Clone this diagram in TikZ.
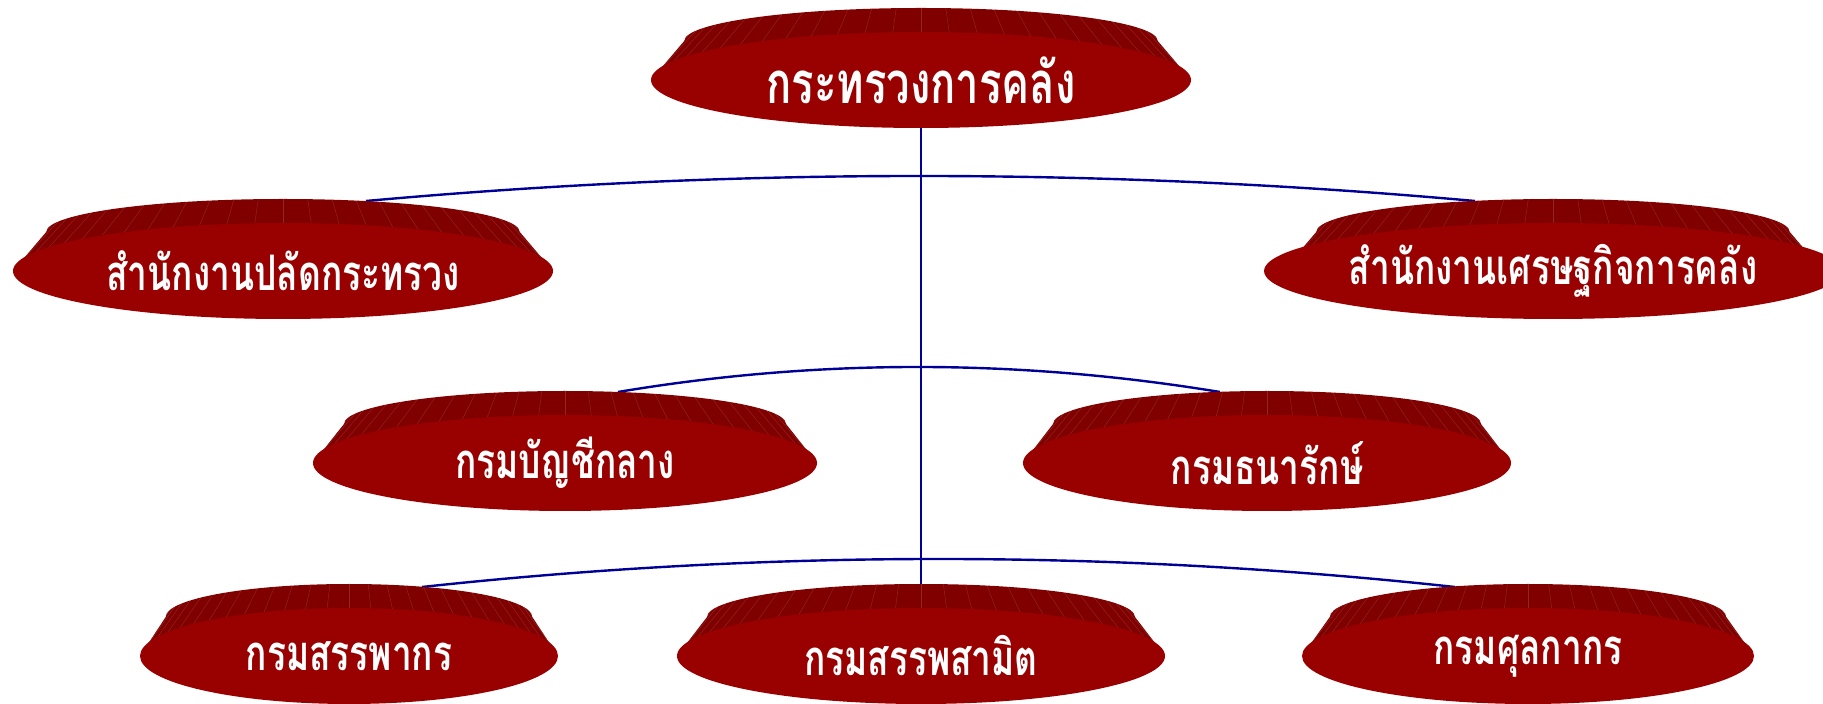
\documentclass[tikz,border=0pt]{standalone}
\usepackage{fontspec}
\newfontfamily\thaifont[Script=Thai,FakeStretch=0.72]{Loma}
\usetikzlibrary{calc,shapes.geometric,backgrounds}

\definecolor{rimred}{RGB}{128,0,0}
\definecolor{facered}{RGB}{153,0,0}
\definecolor{linkblue}{RGB}{0,0,150}

\tikzset{
  face/.style={ellipse,fill=facered,inner sep=0pt,text=white,
    font=\thaifont\bfseries\fontsize{49}{55}\selectfont},
  bigface/.style={face,font=\thaifont\bfseries\fontsize{58}{64}\selectfont},
  link/.style={draw=linkblue,line width=2.4pt},
}

% \disc[style]{name}{x}{y}{x radius}{text}
\newcommand{\disc}[6][face]{%
  \fill[rimred] (#3-0.877*#5,#4+39) arc[start angle=180,end angle=0,x radius=0.877*#5,y radius=33]
    -- (#3+#5,#4) -- (#3-#5,#4) -- cycle;
  \foreach \a in {6,12,...,174}
    \draw[white,opacity=0.15,line width=0.4pt]
      ($(#3,#4+39)+(\a:0.877*#5 and 33)$) -- ($(#3,#4)+(\a:#5 and 48)$);
  \node[#1,minimum width=2*#5pt,minimum height=96pt] (#2) at (#3,#4) {#6};
}

% \arch{left end}{control}{right end}
\newcommand{\arch}[3]{%
  \draw[link] (#1) .. controls ($(#1)!0.667!(#2)$) and ($(#3)!0.667!(#2)$) .. (#3);
}

\begin{document}
\begin{tikzpicture}[x=1pt,y=1pt]
  \useasboundingbox (0,0) rectangle (1823,704);

  \disc[bigface]{top}{921}{624}{270}{กระทรวงการคลัง}
  \disc{l1a}{283}{433}{270}{สำนักงานปลัดกระทรวง}
  \disc{l1b}{1553}{433}{270}{สำนักงานเศรษฐกิจการคลัง}
  \disc{l2a}{565}{241}{252}{กรมบัญชีกลาง}
  \disc{l2b}{1267}{241}{244}{กรมธนารักษ์}
  \disc{l3a}{349}{48}{209}{กรมสรรพากร}
  \disc{l3b}{921}{48}{244}{กรมสรรพสามิต}
  \disc{l3c}{1528}{48}{226}{กรมศุลกากร}

  % ends of the arches, on the rims
  \coordinate (e1a) at ($(l1a)+(83,70)$);
  \coordinate (e1b) at ($(l1b)+(-78,70)$);
  \coordinate (k1) at ($(l1a)!0.5!(l1b)+(0,120)$);
  \coordinate (e2a) at ($(l2a)+(53,71)$);
  \coordinate (e2b) at ($(l2b)+(-47,71)$);
  \coordinate (k2) at ($(l2a)!0.5!(l2b)+(0,121)$);
  \coordinate (e3a) at ($(l3a)+(73,69)$);
  \coordinate (e3b) at ($(l3c)+(-73,69)$);
  \coordinate (k3) at ($(l3a)!0.5!(l3c)+(0,125)$);

  \begin{scope}[on background layer]
    \draw[link] (top) -- (l3b);
    \arch{e1a}{k1}{e1b}
    \arch{e2a}{k2}{e2b}
    \arch{e3a}{k3}{e3b}
  \end{scope}
\end{tikzpicture}
\end{document}
